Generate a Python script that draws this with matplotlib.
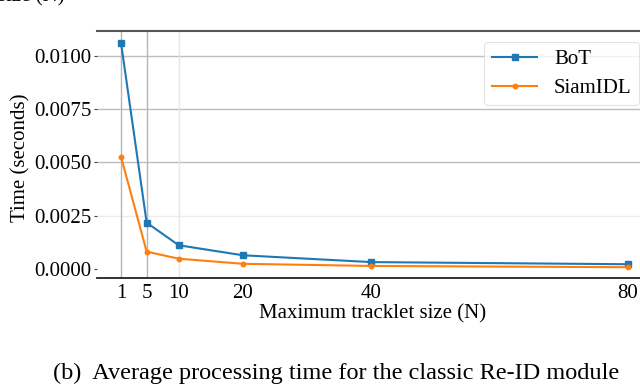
import matplotlib
matplotlib.use("Agg")
import matplotlib.pyplot as plt

plt.rcParams['font.family'] = ['Liberation Serif', 'DejaVu Serif']
plt.rcParams['mathtext.fontset'] = 'stix'

sizes = [1, 5, 10, 20, 40, 80]
bot = [0.01061, 0.00217, 0.00111, 0.00064, 0.00032, 0.00022]
siamidl = [0.00526, 0.00081, 0.00048, 0.00024, 0.00014, 0.00008]
yticks = [0.0, 0.0025, 0.0050, 0.0075, 0.0100]
ytick_labels = ["0.0000", "0.0025", "0.0050", "0.0075", "0.0100"]

W, H = 640, 387
fig = plt.figure(figsize=(W / 100, H / 100), dpi=100)
ax_w = 645 - 96.7
ax_h = 278.3 - 31
ax = fig.add_axes([96.7 / W, 1 - 278.3 / H, ax_w / W, ax_h / H])

# grid lines
for yv, c in zip([0.0025, 0.0050, 0.0075, 0.0100], ['#ececec', '#bdbdbd', '#bdbdbd', '#bdbdbd']):
    ax.axhline(yv, color=c, lw=1.0, zorder=0)
for xv, c in zip([1, 5, 10], ['#b5b5b5', '#b5b5b5', '#e6e6e6']):
    ax.axvline(xv, color=c, lw=1.0, zorder=0)

ax.plot(sizes, bot, color='#1f77b4', marker='s', markersize=4, lw=1.5, label='BoT')
ax.plot(sizes, siamidl, color='#ff7f0e', marker='o', markersize=3.2, lw=1.5, label='SiamIDL')

ax.set_xlim(-2.79, 82.7)
ax.set_ylim(-0.00044, 0.01116)
ax.set_xticks(sizes)
ax.set_xticklabels([str(s) for s in sizes])
ax.set_yticks(yticks)
ax.set_yticklabels(ytick_labels)
ax.tick_params(axis='x', length=0, pad=4, labelsize=15)
ax.tick_params(axis='y', length=2.5, width=0.8, color='#444444', pad=1, labelsize=15)

for s in ['left', 'right']:
    ax.spines[s].set_visible(False)
ax.spines['top'].set_color('#555555')
ax.spines['top'].set_linewidth(1.5)
ax.spines['bottom'].set_color('#222222')
ax.spines['bottom'].set_linewidth(1.3)

leg = ax.legend(loc='upper right', bbox_to_anchor=((639 - 96.7) / ax_w, (278.3 - 42) / ax_h),
                borderaxespad=0.0,
                fontsize=15, frameon=True, fancybox=True, handlelength=2.2,
                handletextpad=0.8, borderpad=0.35, labelspacing=0.45)
leg.get_frame().set_edgecolor('#dddddd')
leg.get_frame().set_linewidth(0.8)

fig.text(21 / W, 1 - 158 / H, 'Time (seconds)', rotation=90, ha='center', va='center', fontsize=15)
fig.text(373 / W, 1 - 314 / H, 'Maximum tracklet size (N)', ha='center', va='center', fontsize=15)
fig.text(336 / W, 1 - 373 / H, '(b)  Average processing time for the classic Re-ID module',
         ha='center', va='center', fontsize=17.5)
fig.text(-2 / W, 1 + 3 / H, 'size (N)', ha='left', va='center', fontsize=15)

fig.savefig('out.png', dpi=100)
